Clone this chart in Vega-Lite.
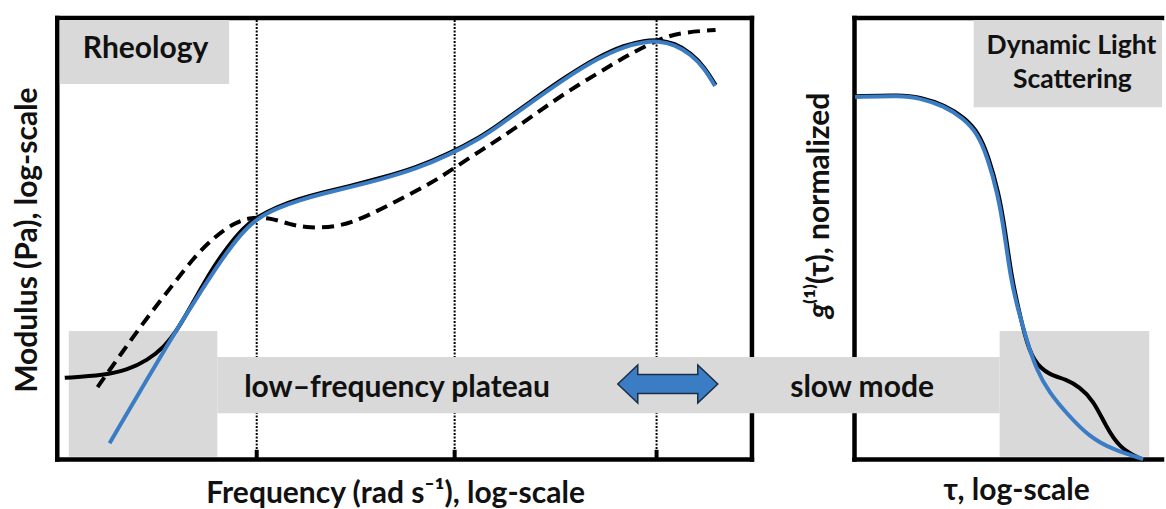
{
  "$schema": "https://vega.github.io/schema/vega-lite/v6.json",
  "width": 1166,
  "height": 509,
  "padding": 0,
  "autosize": {"type": "fit", "contains": "padding"},
  "background": "white",
  "config": {"view": {"stroke": null}},
  "datasets": {
    "frame": [
      {"x": 0.0025, "y": 0, "x2": 0.0025, "y2": 1},
      {"x": 0.0025, "y": 1, "x2": 3.477, "y2": 1},
      {"x": 3.477, "y": 1, "x2": 3.477, "y2": 0},
      {"x": 0.0025, "y": 0, "x2": 3.477, "y2": 0},
      {"x": 3.99, "y": 0, "x2": 3.99, "y2": 1},
      {"x": 3.99, "y": 1, "x2": 5.528, "y2": 1},
      {"x": 3.99, "y": 0, "x2": 5.528, "y2": 0}
    ],
    "grid": [
      {"x": 1.0, "y": 0, "y2": 1},
      {"x": 1.99, "y": 0, "y2": 1},
      {"x": 3.0, "y": 0, "y2": 1}
    ],
    "ticks": [
      {"x": 1.0, "y": 0, "y2": 0.022},
      {"x": 1.99, "y": 0, "y2": 0.022},
      {"x": 3.0, "y": 0, "y2": 0.022}
    ],
    "boxes": [
      {"x": 0.015, "x2": 0.862, "y": 0.8505, "y2": 0.9955},
      {"x": 4.586, "x2": 5.528, "y": 0.798, "y2": 0.9955},
      {"x": 0.06, "x2": 0.803, "y": 0.006, "y2": 0.291},
      {"x": 0.803, "x2": 4.716, "y": 0.105, "y2": 0.232},
      {"x": 4.716, "x2": 5.464, "y": 0.006, "y2": 0.291}
    ],
    "curves": [
      {"s": "Gp_black", "x": 0.040, "y": 0.185},
      {"s": "Gp_black", "x": 0.239, "y": 0.191},
      {"s": "Gp_black", "x": 0.354, "y": 0.203},
      {"s": "Gp_black", "x": 0.454, "y": 0.225},
      {"s": "Gp_black", "x": 0.538, "y": 0.255},
      {"s": "Gp_black", "x": 0.603, "y": 0.293},
      {"s": "Gp_black", "x": 0.688, "y": 0.361},
      {"s": "Gp_black", "x": 0.773, "y": 0.429},
      {"s": "Gp_black", "x": 0.852, "y": 0.481},
      {"s": "Gp_black", "x": 0.937, "y": 0.527},
      {"s": "Gp_black", "x": 1.002, "y": 0.549},
      {"s": "Gp_black", "x": 1.100, "y": 0.572},
      {"s": "Gp_black", "x": 1.210, "y": 0.590},
      {"s": "Gp_black", "x": 1.330, "y": 0.605},
      {"s": "Gp_black", "x": 1.461, "y": 0.619},
      {"s": "Gp_black", "x": 1.625, "y": 0.638},
      {"s": "Gp_black", "x": 1.795, "y": 0.661},
      {"s": "Gp_black", "x": 1.959, "y": 0.692},
      {"s": "Gp_black", "x": 2.124, "y": 0.732},
      {"s": "Gp_black", "x": 2.208, "y": 0.758},
      {"s": "Gp_black", "x": 2.373, "y": 0.812},
      {"s": "Gp_black", "x": 2.542, "y": 0.866},
      {"s": "Gp_black", "x": 2.707, "y": 0.912},
      {"s": "Gp_black", "x": 2.841, "y": 0.939},
      {"s": "Gp_black", "x": 2.941, "y": 0.949},
      {"s": "Gp_black", "x": 3.006, "y": 0.951},
      {"s": "Gp_black", "x": 3.091, "y": 0.943},
      {"s": "Gp_black", "x": 3.171, "y": 0.921},
      {"s": "Gp_black", "x": 3.240, "y": 0.889},
      {"s": "Gp_black", "x": 3.295, "y": 0.848},

      {"s": "Gp_blue", "x": 0.264, "y": 0.037},
      {"s": "Gp_blue", "x": 0.588, "y": 0.287},
      {"s": "Gp_blue", "x": 0.703, "y": 0.368},
      {"s": "Gp_blue", "x": 0.823, "y": 0.452},
      {"s": "Gp_blue", "x": 0.922, "y": 0.512},
      {"s": "Gp_blue", "x": 1.002, "y": 0.546},
      {"s": "Gp_blue", "x": 1.100, "y": 0.569},
      {"s": "Gp_blue", "x": 1.210, "y": 0.587},
      {"s": "Gp_blue", "x": 1.330, "y": 0.602},
      {"s": "Gp_blue", "x": 1.461, "y": 0.616},
      {"s": "Gp_blue", "x": 1.625, "y": 0.635},
      {"s": "Gp_blue", "x": 1.795, "y": 0.658},
      {"s": "Gp_blue", "x": 1.959, "y": 0.689},
      {"s": "Gp_blue", "x": 2.124, "y": 0.729},
      {"s": "Gp_blue", "x": 2.208, "y": 0.755},
      {"s": "Gp_blue", "x": 2.373, "y": 0.809},
      {"s": "Gp_blue", "x": 2.542, "y": 0.863},
      {"s": "Gp_blue", "x": 2.707, "y": 0.909},
      {"s": "Gp_blue", "x": 2.841, "y": 0.936},
      {"s": "Gp_blue", "x": 2.941, "y": 0.946},
      {"s": "Gp_blue", "x": 3.006, "y": 0.948},
      {"s": "Gp_blue", "x": 3.091, "y": 0.940},
      {"s": "Gp_blue", "x": 3.171, "y": 0.918},
      {"s": "Gp_blue", "x": 3.240, "y": 0.886},
      {"s": "Gp_blue", "x": 3.292, "y": 0.846},

      {"s": "Gpp", "x": 0.204, "y": 0.164},
      {"s": "Gpp", "x": 0.324, "y": 0.241},
      {"s": "Gpp", "x": 0.454, "y": 0.323},
      {"s": "Gpp", "x": 0.573, "y": 0.391},
      {"s": "Gpp", "x": 0.688, "y": 0.459},
      {"s": "Gpp", "x": 0.788, "y": 0.504},
      {"s": "Gpp", "x": 0.887, "y": 0.536},
      {"s": "Gpp", "x": 0.972, "y": 0.549},
      {"s": "Gpp", "x": 1.072, "y": 0.547},
      {"s": "Gpp", "x": 1.162, "y": 0.533},
      {"s": "Gpp", "x": 1.261, "y": 0.524},
      {"s": "Gpp", "x": 1.411, "y": 0.527},
      {"s": "Gpp", "x": 1.545, "y": 0.549},
      {"s": "Gpp", "x": 1.710, "y": 0.588},
      {"s": "Gpp", "x": 1.874, "y": 0.626},
      {"s": "Gpp", "x": 1.994, "y": 0.662},
      {"s": "Gpp", "x": 2.124, "y": 0.701},
      {"s": "Gpp", "x": 2.223, "y": 0.729},
      {"s": "Gpp", "x": 2.373, "y": 0.776},
      {"s": "Gpp", "x": 2.542, "y": 0.830},
      {"s": "Gpp", "x": 2.707, "y": 0.875},
      {"s": "Gpp", "x": 2.841, "y": 0.912},
      {"s": "Gpp", "x": 2.956, "y": 0.939},
      {"s": "Gpp", "x": 3.041, "y": 0.957},
      {"s": "Gpp", "x": 3.141, "y": 0.968},
      {"s": "Gpp", "x": 3.295, "y": 0.973},

      {"s": "g1_black", "x": 3.993, "y": 0.823},
      {"s": "g1_black", "x": 4.227, "y": 0.826},
      {"s": "g1_black", "x": 4.312, "y": 0.821},
      {"s": "g1_black", "x": 4.442, "y": 0.803},
      {"s": "g1_black", "x": 4.541, "y": 0.774},
      {"s": "g1_black", "x": 4.611, "y": 0.740},
      {"s": "g1_black", "x": 4.661, "y": 0.685},
      {"s": "g1_black", "x": 4.711, "y": 0.604},
      {"s": "g1_black", "x": 4.741, "y": 0.527},
      {"s": "g1_black", "x": 4.776, "y": 0.413},
      {"s": "g1_black", "x": 4.801, "y": 0.361},
      {"s": "g1_black", "x": 4.840, "y": 0.282},
      {"s": "g1_black", "x": 4.885, "y": 0.221},
      {"s": "g1_black", "x": 4.965, "y": 0.191},
      {"s": "g1_black", "x": 5.050, "y": 0.182},
      {"s": "g1_black", "x": 5.115, "y": 0.164},
      {"s": "g1_black", "x": 5.184, "y": 0.135},
      {"s": "g1_black", "x": 5.249, "y": 0.074},
      {"s": "g1_black", "x": 5.314, "y": 0.028},
      {"s": "g1_black", "x": 5.399, "y": 0.006},
      {"s": "g1_black", "x": 5.439, "y": -0.001},

      {"s": "g1_blue", "x": 3.993, "y": 0.821},
      {"s": "g1_blue", "x": 4.227, "y": 0.824},
      {"s": "g1_blue", "x": 4.310, "y": 0.819},
      {"s": "g1_blue", "x": 4.438, "y": 0.801},
      {"s": "g1_blue", "x": 4.536, "y": 0.772},
      {"s": "g1_blue", "x": 4.606, "y": 0.738},
      {"s": "g1_blue", "x": 4.656, "y": 0.683},
      {"s": "g1_blue", "x": 4.706, "y": 0.602},
      {"s": "g1_blue", "x": 4.736, "y": 0.525},
      {"s": "g1_blue", "x": 4.771, "y": 0.411},
      {"s": "g1_blue", "x": 4.797, "y": 0.359},
      {"s": "g1_blue", "x": 4.850, "y": 0.271},
      {"s": "g1_blue", "x": 4.900, "y": 0.203},
      {"s": "g1_blue", "x": 4.965, "y": 0.151},
      {"s": "g1_blue", "x": 5.050, "y": 0.105},
      {"s": "g1_blue", "x": 5.164, "y": 0.051},
      {"s": "g1_blue", "x": 5.284, "y": 0.022},
      {"s": "g1_blue", "x": 5.434, "y": 0.001}
    ],
    "labels": [
      {"role": "h", "text": "Rheology", "x": 0.444, "y": 0.9094},
      {"role": "h", "text": "low–frequency plateau", "x": 1.702, "y": 0.1416},
      {"role": "h", "text": "slow mode", "x": 4.028, "y": 0.1416},
      {"role": "h", "text": "Frequency (rad s⁻¹), log-scale", "x": 1.695, "y": -0.0985},
      {"role": "h", "text": "τ, log-scale", "x": 4.801, "y": -0.0917},
      {"role": "dls", "text": "Dynamic Light", "x": 5.075, "y": 0.9185},
      {"role": "dls", "text": "Scattering", "x": 5.080, "y": 0.8414},
      {"role": "v", "text": "Modulus (Pa), log-scale", "x": -0.100, "y": 0.497},
      {"role": "g", "text": "g", "x": 3.863, "y": 0.3198},
      {"role": "v2", "text": "⁽¹⁾(τ), normalized", "x": 3.863, "y": 0.3522}
    ],
    "arrow": [
      {"x": 3.056, "y": 0.171}
    ]
  },
  "encoding": {
    "x": {"field": "x", "type": "quantitative", "scale": {"domain": [-0.284, 5.528], "nice": false, "zero": false}, "axis": null},
    "y": {"field": "y", "type": "quantitative", "scale": {"domain": [-0.1121, 1.0408], "nice": false, "zero": false}, "axis": null}
  },
  "layer": [
    {
      "data": {"name": "frame"},
      "mark": {"type": "rule", "color": "black", "strokeWidth": 4.5, "strokeCap": "square"},
      "encoding": {"x2": {"field": "x2"}, "y2": {"field": "y2"}}
    },
    {
      "data": {"name": "grid"},
      "mark": {"type": "rule", "color": "black", "strokeWidth": 2, "strokeDash": [2, 1.5]},
      "encoding": {"y2": {"field": "y2"}}
    },
    {
      "data": {"name": "ticks"},
      "mark": {"type": "rule", "color": "black", "strokeWidth": 4},
      "encoding": {"y2": {"field": "y2"}}
    },
    {
      "data": {"name": "boxes"},
      "mark": {"type": "rect", "color": "#d9d9d9", "opacity": 1},
      "encoding": {"x2": {"field": "x2"}, "y2": {"field": "y2"}}
    },
    {
      "data": {"name": "curves"},
      "transform": [{"filter": "datum.s === 'Gpp'"}],
      "mark": {"type": "line", "color": "black", "strokeWidth": 4, "strokeDash": [12, 7], "interpolate": "basis"}
    },
    {
      "data": {"name": "curves"},
      "transform": [{"filter": "datum.s === 'Gp_black' || datum.s === 'g1_black'"}],
      "mark": {"type": "line", "color": "black", "strokeWidth": 4, "interpolate": "basis"},
      "encoding": {"detail": {"field": "s"}}
    },
    {
      "data": {"name": "curves"},
      "transform": [{"filter": "datum.s === 'Gp_blue' || datum.s === 'g1_blue'"}],
      "mark": {"type": "line", "color": "#3b7dc4", "strokeWidth": 4, "interpolate": "basis"},
      "encoding": {"detail": {"field": "s"}}
    },
    {
      "data": {"name": "arrow"},
      "mark": {
        "type": "point",
        "shape": "M -1 0 L -0.6 -0.38 L -0.6 -0.19 L 0.6 -0.19 L 0.6 -0.38 L 1 0 L 0.6 0.38 L 0.6 0.19 L -0.6 0.19 L -0.6 0.38 Z",
        "size": 10000,
        "filled": true,
        "fill": "#3b7dc4",
        "stroke": "#1c2e44",
        "strokeWidth": 1.5,
        "opacity": 1
      }
    },
    {
      "data": {"name": "labels"},
      "transform": [{"filter": "datum.role === 'h'"}],
      "mark": {"type": "text", "font": "Lato", "fontWeight": "bold", "fontSize": 30, "align": "center", "baseline": "alphabetic", "color": "#111111"},
      "encoding": {"text": {"field": "text"}}
    },
    {
      "data": {"name": "labels"},
      "transform": [{"filter": "datum.role === 'dls'"}],
      "mark": {"type": "text", "font": "Lato", "fontWeight": "bold", "fontSize": 26.5, "align": "center", "baseline": "alphabetic", "color": "#111111"},
      "encoding": {"text": {"field": "text"}}
    },
    {
      "data": {"name": "labels"},
      "transform": [{"filter": "datum.role === 'v'"}],
      "mark": {"type": "text", "font": "Lato", "fontWeight": "bold", "fontSize": 30, "align": "center", "baseline": "alphabetic", "angle": 270, "color": "#111111"},
      "encoding": {"text": {"field": "text"}}
    },
    {
      "data": {"name": "labels"},
      "transform": [{"filter": "datum.role === 'g'"}],
      "mark": {"type": "text", "font": "Lato", "fontWeight": "bold", "fontStyle": "italic", "fontSize": 30, "align": "left", "baseline": "alphabetic", "angle": 270, "color": "#111111"},
      "encoding": {"text": {"field": "text"}}
    },
    {
      "data": {"name": "labels"},
      "transform": [{"filter": "datum.role === 'v2'"}],
      "mark": {"type": "text", "font": "Lato", "fontWeight": "bold", "fontSize": 30, "align": "left", "baseline": "alphabetic", "angle": 270, "color": "#111111"},
      "encoding": {"text": {"field": "text"}}
    }
  ]
}
